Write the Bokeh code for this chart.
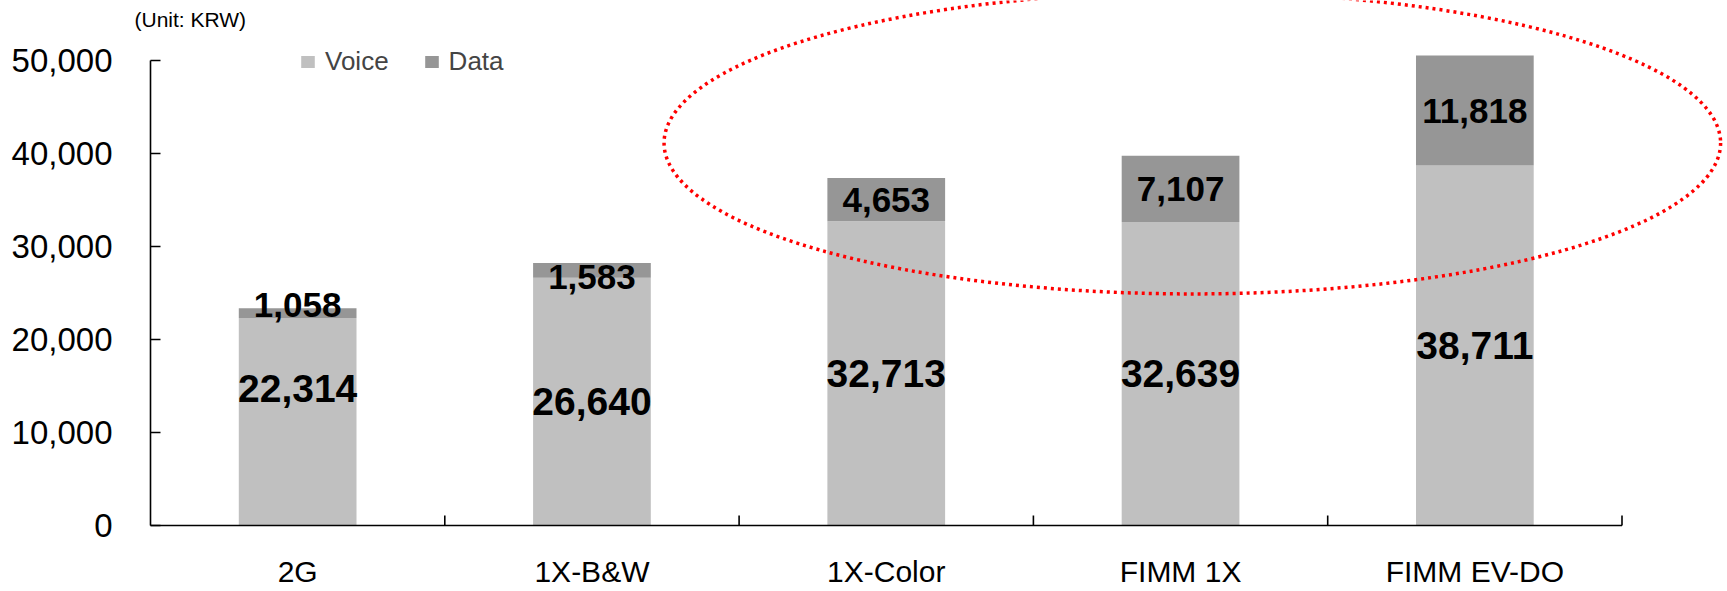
from bokeh.plotting import figure
from bokeh.models import (Range1d, FixedTicker, NumeralTickFormatter, Legend,
                          LegendItem, Label, ColumnDataSource)
from bokeh.core.properties import value
from bokeh.embed import file_html
from bokeh.resources import INLINE

# ARPU by handset generation (KRW)
categories = ["2G", "1X-B&W", "1X-Color", "FIMM 1X", "FIMM EV-DO"]
voice = [22314, 26640, 32713, 32639, 38711]
data = [1058, 1583, 4653, 7107, 11818]
y_ticks = [0, 10000, 20000, 30000, 40000, 50000]

# pixel nudges for a few value labels that sit off-centre
voice_label_shift = [-33, 0, 0, 0, 0]
data_label_shift = [-8, 7, 0, 0, 0]

VOICE_COLOR = "#C0C0C0"
DATA_COLOR = "#969696"
FONT = "Liberation Sans"

# plot geometry (px)
W, H = 1727, 591
PX_PER_CAT = 294.3
PX_PER_UNIT_Y = 0.0093
FRAME_LEFT = 128
AXIS_X = 150
AXIS_Y = 525
TICK_LEN = 10
CAT_LABEL_DROP = 46

n = len(categories)
xc = [i + 0.5 for i in range(n)]
total = [v + d for v, d in zip(voice, data)]

src = ColumnDataSource(dict(
    x=xc, voice=voice, data=data, total=total,
    voice_mid=[v / 2 for v in voice],
    data_mid=[v + d / 2 for v, d in zip(voice, data)],
    voice_txt=[f"{v:,}" for v in voice],
    data_txt=[f"{d:,}" for d in data],
    voice_dy=voice_label_shift,
    data_dy=data_label_shift,
))
cat_src = ColumnDataSource(dict(x=xc, y=[0] * n, name=categories))

x_start = -(AXIS_X - FRAME_LEFT) / PX_PER_CAT
x_end = (W - AXIS_X) / PX_PER_CAT
y_start = -(H - AXIS_Y) / PX_PER_UNIT_Y
y_end = y_start + H / PX_PER_UNIT_Y

p = figure(width=W, height=H, output_backend="svg", toolbar_location=None,
           x_range=Range1d(x_start, x_end), y_range=Range1d(y_start, y_end),
           min_border_left=FRAME_LEFT, min_border_right=0, min_border_top=0,
           min_border_bottom=0)
p.outline_line_color = None
p.xgrid.visible = False
p.ygrid.visible = False
p.xaxis.visible = False
p.background_fill_color = "white"

# stacked columns
r_voice = p.vbar(x="x", bottom=0, top="voice", width=0.4, source=src,
                 fill_color=VOICE_COLOR, line_color=None)
r_data = p.vbar(x="x", bottom="voice", top="total", width=0.4, source=src,
                fill_color=DATA_COLOR, line_color=None)

# axis lines (stop at the last category / top tick)
p.segment(x0=[0, 0], y0=[0, 0], x1=[n, 0], y1=[0, y_ticks[-1]],
          line_color="black", line_width=1.6)
# inward ticks: y at every gridline, x on category boundaries
tick_dx = TICK_LEN / PX_PER_CAT
tick_dy = TICK_LEN / PX_PER_UNIT_Y
p.segment(x0=[0] * len(y_ticks), y0=y_ticks, x1=[tick_dx] * len(y_ticks),
          y1=y_ticks, line_color="black", line_width=1.6)
bounds = list(range(1, n + 1))
p.segment(x0=bounds, y0=[0] * n, x1=bounds, y1=[tick_dy] * n,
          line_color="black", line_width=1.6)

# category names under the axis
p.text(x="x", y="y", text="name", source=cat_src, y_offset=CAT_LABEL_DROP,
       text_font=value(FONT), text_font_size="30px", text_align="center",
       text_baseline="middle", text_color="black")

# dotted highlight around the newer handsets
hl_x, hl_y, hl_w, hl_h = 3.54, 41130, 3.59, 32470
p.ellipse(x=[hl_x], y=[hl_y], width=[hl_w], height=[hl_h], fill_color=None,
          line_color="#FF0000", line_width=3.5, line_dash="3 4")

# value labels
p.text(x="x", y="voice_mid", text="voice_txt", source=src, y_offset="voice_dy",
       text_font=value(FONT), text_font_style="bold", text_font_size="39px",
       text_align="center", text_baseline="middle", text_color="black")
p.text(x="x", y="data_mid", text="data_txt", source=src, y_offset="data_dy",
       text_font=value(FONT), text_font_style="bold", text_font_size="35px",
       text_align="center", text_baseline="middle", text_color="black")

# y axis
yax = p.yaxis[0]
yax.ticker = FixedTicker(ticks=y_ticks)
yax.formatter = NumeralTickFormatter(format="0,0")
yax.axis_line_color = None
yax.major_tick_in = 0
yax.major_tick_out = 0
yax.minor_tick_line_color = None
yax.major_label_standoff = 16
yax.major_label_text_font = FONT
yax.major_label_text_font_size = "33px"
yax.major_label_text_color = "black"

# unit note
p.add_layout(Label(x=x_start + (134 - FRAME_LEFT) / PX_PER_CAT,
                   y=y_start + (H - 19) / PX_PER_UNIT_Y,
                   text="(Unit: KRW)", text_font=FONT,
                   text_font_size="21px", text_baseline="middle",
                   text_color="black"))

legend = Legend(items=[LegendItem(label="Voice", renderers=[r_voice]),
                       LegendItem(label="Data", renderers=[r_data])],
                orientation="horizontal",
                location=(299 - FRAME_LEFT, H - 77),
                glyph_width=17, glyph_height=15, label_standoff=9, spacing=34,
                padding=0, margin=0, label_width=62, label_height=15,
                label_text_font=FONT, label_text_font_size="26px",
                border_line_color=None, background_fill_alpha=0)
p.add_layout(legend, "center")

open("out.html", "w").write(file_html(p, INLINE))
